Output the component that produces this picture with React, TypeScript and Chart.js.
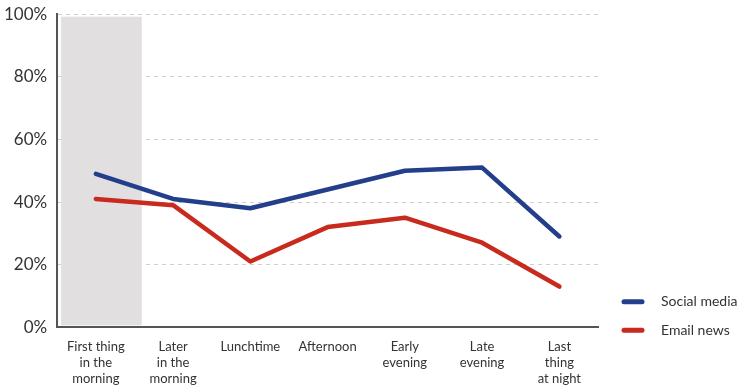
import React, { useEffect, useRef } from "react";
import { Chart, registerables } from "chart.js";

Chart.register(...registerables);

const categories: string[][] = [
  ["First thing", "in the", "morning"],
  ["Later", "in the", "morning"],
  ["Lunchtime"],
  ["Afternoon"],
  ["Early", "evening"],
  ["Late", "evening"],
  ["Last", "thing", "at night"],
];
const socialMedia = [49, 41, 38, 44, 50, 51, 29];
const emailNews = [41, 39, 21, 32, 35, 27, 13];
const seriesNames = ["Social media", "Email news"];
const seriesColors = ["#233e8b", "#c82a1e"];
const yTicks = [0, 20, 40, 60, 80, 100];
const bandRange = [0.6, 99.2];

const FONT = "Lato, 'Open Sans', sans-serif";

const bandPlugin = {
  id: "band",
  beforeDatasetsDraw(chart: any) {
    const { ctx, scales } = chart;
    const x = scales.x;
    const y = scales.y;
    const x0 = x.getPixelForValue(0);
    const step = x.getPixelForValue(1) - x0;
    const left = x0 - 0.45 * step;
    const right = x0 + 0.594 * step;
    const top = y.getPixelForValue(bandRange[1]);
    const bottom = y.getPixelForValue(bandRange[0]);
    ctx.save();
    ctx.fillStyle = "#e1dfe0";
    ctx.fillRect(left, top, right - left, bottom - top);
    ctx.restore();
  },
};

const legendPlugin = {
  id: "customLegend",
  afterDraw(chart: any) {
    const { ctx, chartArea } = chart;
    const x = chartArea.right + 24;
    const ys = [chartArea.bottom - 25.5, chartArea.bottom + 3];
    ctx.save();
    chart.data.datasets.forEach((ds: any, i: number) => {
      const cy = ys[i];
      ctx.strokeStyle = ds.borderColor;
      ctx.lineWidth = 5;
      ctx.lineCap = "round";
      ctx.beginPath();
      ctx.moveTo(x + 2, cy);
      ctx.lineTo(x + 20, cy);
      ctx.stroke();
      ctx.fillStyle = "#333";
      ctx.font = `14px ${FONT}`;
      ctx.textBaseline = "middle";
      ctx.textAlign = "left";
      ctx.fillText(ds.label, x + 39, cy);
    });
    ctx.restore();
  },
};

export default function App() {
  const ref = useRef<HTMLCanvasElement | null>(null);
  useEffect(() => {
    document.body.style.margin = "0";
    const chart = new Chart(ref.current as HTMLCanvasElement, {
      type: "line",
      data: {
        labels: categories,
        datasets: [
          {
            label: seriesNames[0],
            data: socialMedia,
            borderColor: seriesColors[0],
            backgroundColor: seriesColors[0],
            borderWidth: 4.5,
            pointRadius: 0,
            tension: 0,
            borderCapStyle: "round",
            borderJoinStyle: "round",
          },
          {
            label: seriesNames[1],
            data: emailNews,
            borderColor: seriesColors[1],
            backgroundColor: seriesColors[1],
            borderWidth: 4.5,
            pointRadius: 0,
            tension: 0,
            borderCapStyle: "round",
            borderJoinStyle: "round",
          },
        ],
      },
      options: {
        animation: false,
        responsive: false,
        maintainAspectRatio: false,
        layout: { padding: { top: 0, right: 162, left: -6, bottom: 0 } },
        plugins: {
          legend: { display: false },
          tooltip: { enabled: false },
        },
        scales: {
          x: {
            offset: true,
            grid: { display: false, drawTicks: false },
            border: { display: true, color: "#555", width: 2 },
            ticks: {
              color: "#333",
              font: { family: FONT, size: 13, lineHeight: 1.25 },
              padding: 11,
              maxRotation: 0,
              autoSkip: false,
            },
          },
          y: {
            min: 0,
            max: 100,
            afterBuildTicks(scale: any) {
              scale.ticks = yTicks.map((v) => ({ value: v }));
            },
            grid: {
              drawTicks: false,
              color: (c: any) => (c.tick && c.tick.value === 0 ? "rgba(0,0,0,0)" : "#cfcfcf"),
              lineWidth: 1,
            },
            border: { display: true, color: "#555", width: 2, dash: [4, 4] },
            ticks: {
              color: "#333",
              font: { family: FONT, size: 17 },
              padding: 10,
              callback: (v: any) => `${v}%`,
            },
          },
        },
      },
      plugins: [bandPlugin, legendPlugin],
    } as any);
    return () => chart.destroy();
  }, []);
  return (
    <div style={{ width: 739, height: 389, overflow: "hidden", position: "relative" }}>
      <canvas
        ref={ref}
        width={760}
        height={404}
        style={{ display: "block", width: 760, height: 404, marginTop: -6 }}
      />
    </div>
  );
}
